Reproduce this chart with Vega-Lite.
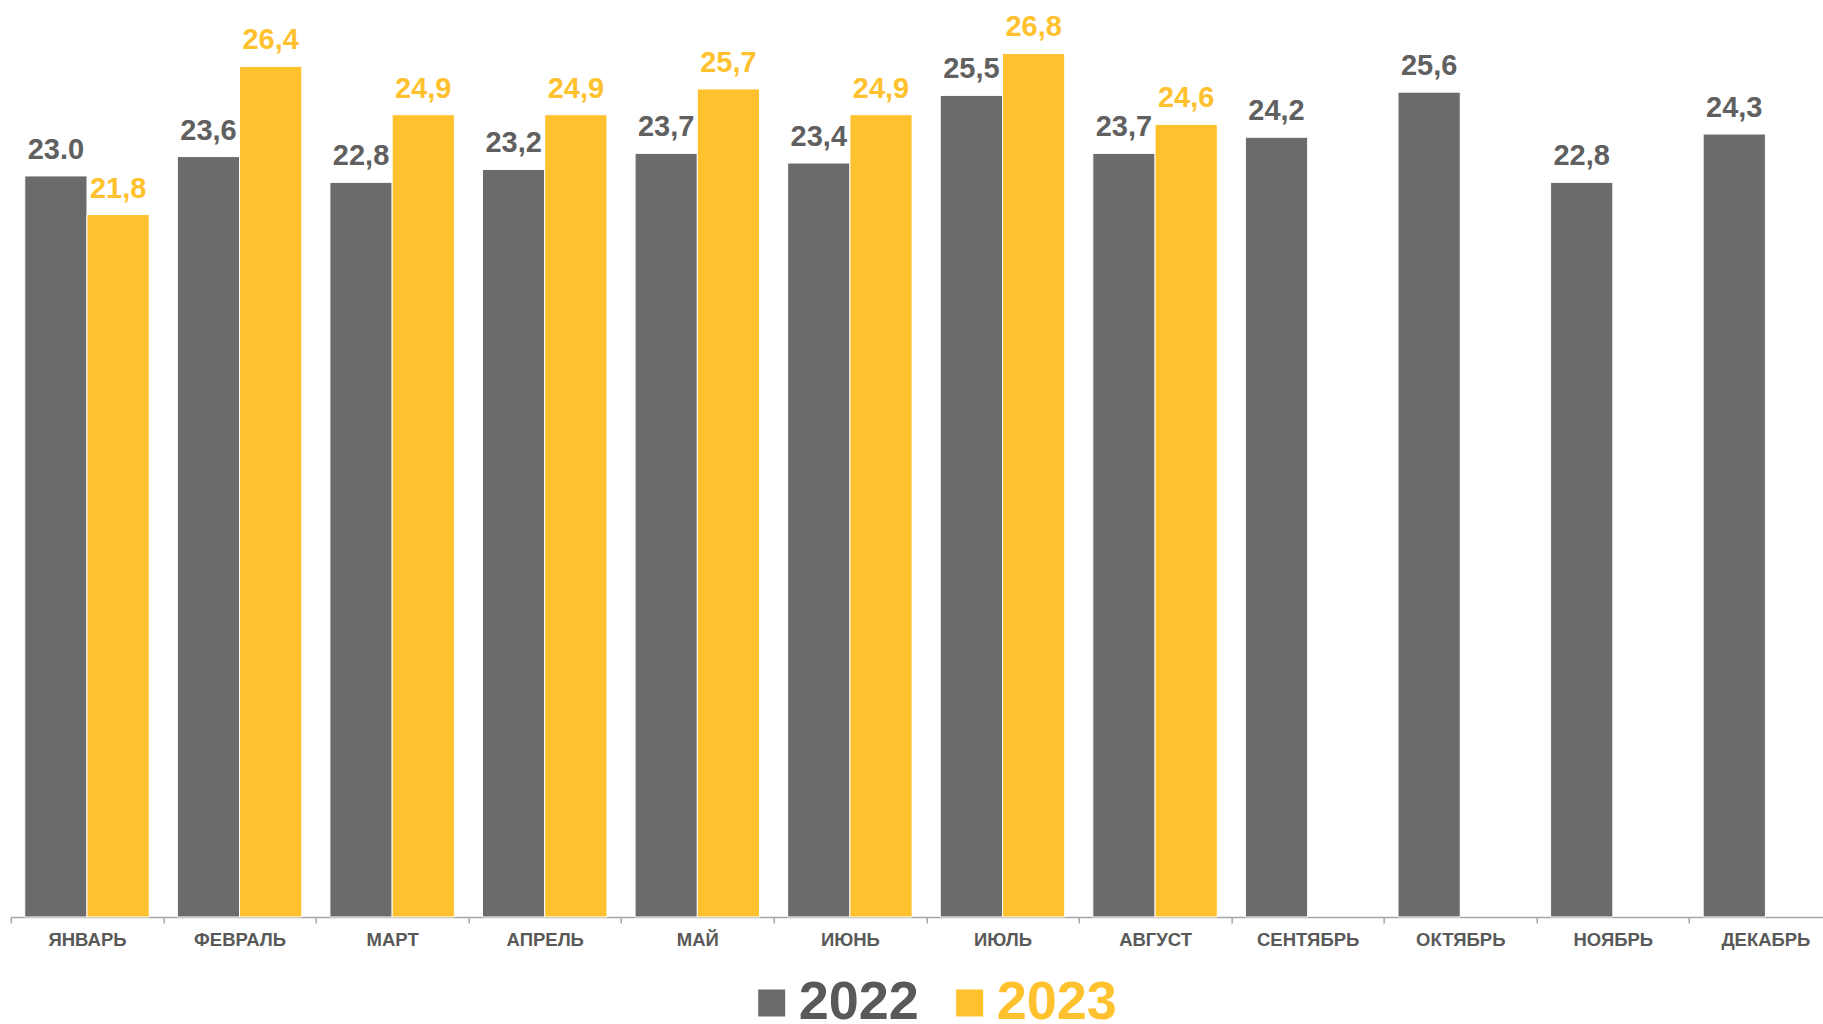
{
  "$schema": "https://vega.github.io/schema/vega-lite/v6.json",
  "width": 1812,
  "height": 917,
  "autosize": {"type": "none"},
  "padding": {"left": 10.7, "top": 0, "right": 0, "bottom": 107},
  "background": "white",
  "config": {"view": {"stroke": null}, "font": "Liberation Sans"},
  "data": {
    "values": [
      {"month": "ЯНВАРЬ", "year": "2022", "value": 23.0, "label": "23.0"},
      {"month": "ФЕВРАЛЬ", "year": "2022", "value": 23.6, "label": "23,6"},
      {"month": "МАРТ", "year": "2022", "value": 22.8, "label": "22,8"},
      {"month": "АПРЕЛЬ", "year": "2022", "value": 23.2, "label": "23,2"},
      {"month": "МАЙ", "year": "2022", "value": 23.7, "label": "23,7"},
      {"month": "ИЮНЬ", "year": "2022", "value": 23.4, "label": "23,4"},
      {"month": "ИЮЛЬ", "year": "2022", "value": 25.5, "label": "25,5"},
      {"month": "АВГУСТ", "year": "2022", "value": 23.7, "label": "23,7"},
      {"month": "СЕНТЯБРЬ", "year": "2022", "value": 24.2, "label": "24,2"},
      {"month": "ОКТЯБРЬ", "year": "2022", "value": 25.6, "label": "25,6"},
      {"month": "НОЯБРЬ", "year": "2022", "value": 22.8, "label": "22,8"},
      {"month": "ДЕКАБРЬ", "year": "2022", "value": 24.3, "label": "24,3"},
      {"month": "ЯНВАРЬ", "year": "2023", "value": 21.8, "label": "21,8"},
      {"month": "ФЕВРАЛЬ", "year": "2023", "value": 26.4, "label": "26,4"},
      {"month": "МАРТ", "year": "2023", "value": 24.9, "label": "24,9"},
      {"month": "АПРЕЛЬ", "year": "2023", "value": 24.9, "label": "24,9"},
      {"month": "МАЙ", "year": "2023", "value": 25.7, "label": "25,7"},
      {"month": "ИЮНЬ", "year": "2023", "value": 24.9, "label": "24,9"},
      {"month": "ИЮЛЬ", "year": "2023", "value": 26.8, "label": "26,8"},
      {"month": "АВГУСТ", "year": "2023", "value": 24.6, "label": "24,6"}
    ]
  },
  "encoding": {
    "x": {
      "field": "month",
      "type": "nominal",
      "sort": ["ЯНВАРЬ", "ФЕВРАЛЬ", "МАРТ", "АПРЕЛЬ", "МАЙ", "ИЮНЬ", "ИЮЛЬ", "АВГУСТ", "СЕНТЯБРЬ", "ОКТЯБРЬ", "НОЯБРЬ", "ДЕКАБРЬ"],
      "scale": {"range": [0, 1831], "paddingInner": 0, "paddingOuter": 0},
      "axis": {
        "title": null,
        "tickBand": "extent",
        "domainColor": "#A6A6A6",
        "domainWidth": 1.5,
        "tickColor": "#A6A6A6",
        "tickWidth": 1.5,
        "tickSize": 6,
        "labelFont": "Liberation Sans",
        "labelFontSize": 18.5,
        "labelFontWeight": "bold",
        "labelColor": "#595959",
        "labelPadding": 8,
        "labelAngle": 0
      }
    },
    "xOffset": {
      "field": "year",
      "type": "nominal",
      "scale": {"domain": ["2022", "2023"], "paddingInner": 0, "paddingOuter": 0.226}
    },
    "y": {
      "field": "value",
      "type": "quantitative",
      "scale": {"domain": [0, 28.46], "nice": false, "zero": true},
      "axis": null
    }
  },
  "layer": [
    {
      "mark": {"type": "bar", "stroke": "#ffffff", "strokeWidth": 1},
      "encoding": {
        "color": {
          "field": "year",
          "type": "nominal",
          "scale": {"domain": ["2022", "2023"], "range": ["#6B6B6B", "#FFC12E"]},
          "legend": {
            "title": null,
            "orient": "none",
            "legendX": 734,
            "legendY": 976,
            "direction": "horizontal",
            "symbolType": "square",
            "symbolSize": 729,
            "symbolStrokeWidth": 0,
            "symbolOpacity": 1,
            "labelFont": "Liberation Sans",
            "labelFontSize": 54,
            "labelFontWeight": "bold",
            "labelColor": {"expr": "datum.label == '2022' ? '#595959' : '#FFC12E'"},
            "labelOffset": 0,
            "columnPadding": 23,
            "padding": 0,
            "labelLimit": 0
          }
        }
      }
    },
    {
      "mark": {"type": "text", "baseline": "alphabetic", "dy": -17, "fontSize": 29, "fontWeight": "bold", "font": "Liberation Sans"},
      "encoding": {
        "text": {"field": "label"},
        "color": {"condition": {"test": "datum.year == '2022'", "value": "#606060"}, "value": "#FFC12E"}
      }
    }
  ]
}
